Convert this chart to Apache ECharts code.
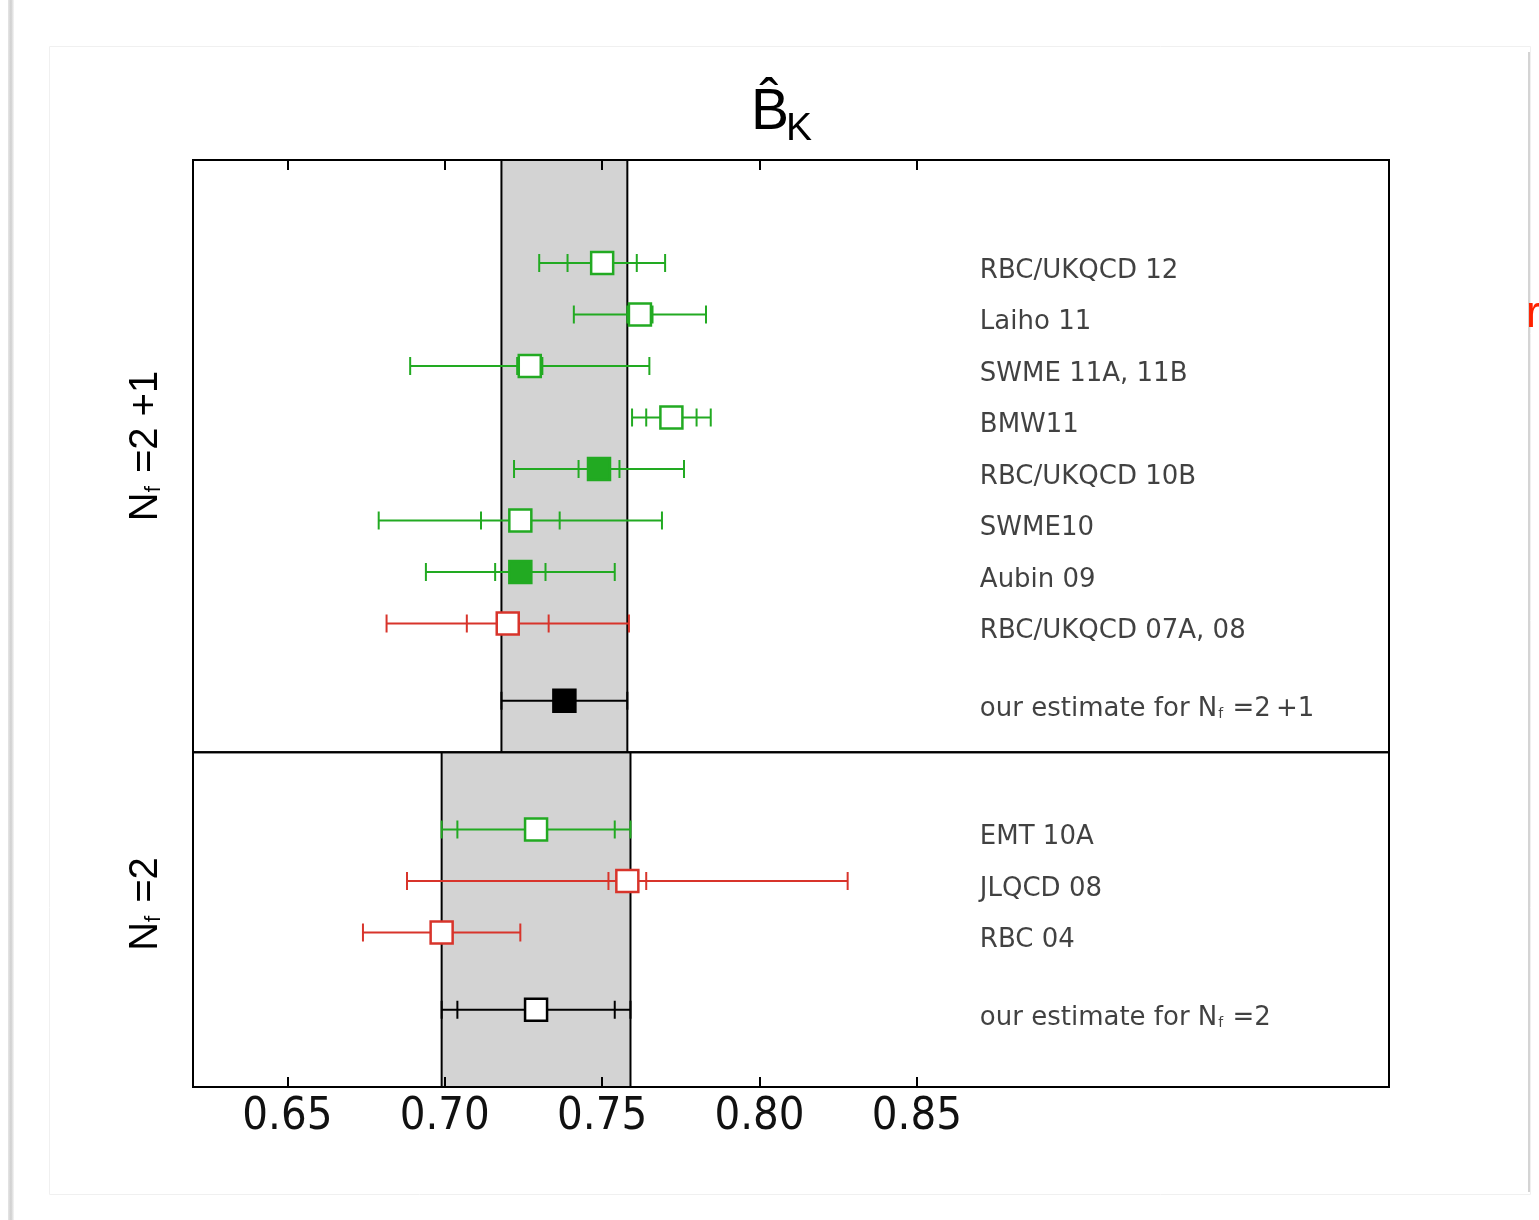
<!DOCTYPE html>
<html>
<head>
<meta charset="utf-8">
<script src="https://cdn.jsdelivr.net/npm/echarts@6/dist/echarts.min.js"></script>
<style>
html, body { margin: 0; padding: 0; background: #fff; }
#main { width: 1539px; height: 1220px; }
</style>
</head>
<body>
<div id="main"></div>
<script>
// B_K results, one row per collaboration (top to bottom)
var names = ['RBC/UKQCD 12', 'Laiho 11', 'SWME 11A, 11B', 'BMW11', 'RBC/UKQCD 10B',
             'SWME10', 'Aubin 09', 'RBC/UKQCD 07A, 08', 'our estimate for N_f =2\u2009+1',
             'EMT 10A', 'JLQCD 08', 'RBC 04', 'our estimate for N_f =2'];
var rows = [2, 3, 4, 5, 6, 7, 8, 9, 10.5, 13, 14, 15, 16.5];
var values = [0.750, 0.762, 0.727, 0.772, 0.749, 0.724, 0.724, 0.720, 0.738,
              0.729, 0.758, 0.699, 0.729];
var statErr = [0.011, 0.004, 0.004, 0.008, 0.0065, 0.0125, 0.008, 0.013, null,
               0.025, 0.006, null, 0.025];
var totErr = [0.020, 0.021, 0.038, 0.0125, 0.027, 0.045, 0.030, 0.0385, 0.020,
              0.030, 0.070, 0.025, 0.030];
// 'ok' = meets quality criteria, 'bad' = does not, 'avg' = FLAG estimate
var quality = ['ok', 'ok', 'ok', 'ok', 'ok', 'ok', 'ok', 'bad', 'avg',
               'ok', 'bad', 'bad', 'avg'];
var usedInAverage = [false, false, false, false, true, false, true, false, true,
                     false, false, false, false];
var panels = [[0, 11.5], [11.5, 18]];
var panelNames = ['N_f =2 +1', 'N_f =2'];
var estimateIdx = [8, 12];
var ticks = [0.65, 0.70, 0.75, 0.80, 0.85];

var xMin = 0.62, xMax = 1.0, yMin = 0, yMax = 18;
var LABEL_X = 0.870;

var colors = { ok: '#22aa22', bad: '#d8342b', avg: '#000000' };

function colorOf(i) { return colors[quality[i]]; }
function richName(s, big) { return s.replace('_f', big ? '{f|f}' : '{s|f}'); }

var chart = echarts.init(document.getElementById('main'));

function xAxisAt(pos, labels) {
	return {
		type : 'value', min : xMin, max : xMax, position : pos, z : 5,
		splitLine : { show : false },
		axisLine : { show : false, onZero : false },
		axisTick : { show : true, inside : true, length : 10, customValues : ticks,
			lineStyle : { color : '#000', width : 2 } },
		axisLabel : { show : labels, customValues : ticks, margin : 8, color : '#111',
			fontSize : 45, fontFamily : 'DejaVu Sans Condensed, DejaVu Sans',
			formatter : function(v) { return v.toFixed(2); } }
	};
}

var option = {
	animation : false,
	grid : { left : 193, top : 160, width : 1196, height : 927, show : false },
	xAxis : [xAxisAt('bottom', true), xAxisAt('top', false)],
	yAxis : { type : 'value', min : yMin, max : yMax, inverse : true, show : false },
	series : [{
				// shaded bands from the two estimates
				type : 'custom', z : 1, silent : true,
				data : estimateIdx.map(function(e, p) { return [values[e], panels[p][0], panels[p][1], totErr[e]]; }),
				renderItem : function(params, api) {
					var v = api.value(0), err = api.value(3);
					var a = api.coord([v - err, api.value(1)]);
					var b = api.coord([v + err, api.value(2)]);
					return { type : 'group', children : [
						{ type : 'rect', shape : { x : a[0], y : a[1], width : b[0] - a[0], height : b[1] - a[1] },
						  style : { fill : '#d3d3d3' } },
						{ type : 'line', shape : { x1 : a[0], y1 : a[1], x2 : a[0], y2 : b[1] },
						  style : { stroke : '#000', lineWidth : 2 } },
						{ type : 'line', shape : { x1 : b[0], y1 : a[1], x2 : b[0], y2 : b[1] },
						  style : { stroke : '#000', lineWidth : 2 } }
					] };
				}
			}, {
				// panel frames
				type : 'custom', z : 8, silent : true,
				data : panels.map(function(p) { return [xMin, p[0], xMax, p[1]]; }),
				renderItem : function(params, api) {
					var a = api.coord([api.value(0), api.value(1)]);
					var b = api.coord([api.value(2), api.value(3)]);
					return { type : 'rect', shape : { x : a[0], y : a[1], width : b[0] - a[0], height : b[1] - a[1] },
						style : { fill : null, stroke : '#000', lineWidth : 2 } };
				}
			}, {
				// error bars: outer = total, inner ticks = statistical
				type : 'custom', z : 6, silent : true,
				data : values.map(function(v, i) { return [v, rows[i]]; }),
				renderItem : function(params, api) {
					var i = params.dataIndex, c = colorOf(i);
					var lo = api.coord([values[i] - totErr[i], rows[i]]);
					var hi = api.coord([values[i] + totErr[i], rows[i]]);
					var y = lo[1];
					var st = { stroke : c, lineWidth : 2 };
					var kids = [{ type : 'line', shape : { x1 : lo[0], y1 : y, x2 : hi[0], y2 : y }, style : st }];
					var xs = [lo[0], hi[0]];
					if (statErr[i] != null) {
						xs.push(api.coord([values[i] - statErr[i], rows[i]])[0]);
						xs.push(api.coord([values[i] + statErr[i], rows[i]])[0]);
					}
					xs.forEach(function(x) {
						kids.push({ type : 'line', shape : { x1 : x, y1 : y - 9, x2 : x, y2 : y + 9 }, style : st });
					});
					return { type : 'group', children : kids };
				}
			}, {
				type : 'scatter', z : 7, silent : true,
				symbol : 'rect', symbolSize : 22,
				data : values.map(function(v, i) {
					var c = colorOf(i);
					return { value : [v, rows[i]],
						itemStyle : { color : usedInAverage[i] ? c : '#fff', borderColor : c, borderWidth : 2.5, opacity : 1 } };
				})
			}, {
				type : 'scatter', z : 7, silent : true, symbolSize : 0,
				data : names.map(function(n, i) { return [LABEL_X, rows[i], n]; }),
				label : {
					show : true, position : 'right', distance : 0, offset : [0, 8],
					color : '#111', fontSize : 26, fontFamily : 'DejaVu Sans',
					formatter : function(p) { return richName(p.value[2], false); },
					rich : { s : { fontSize : 14, color : '#111', fontFamily : 'DejaVu Sans', padding : [11, 1, 0, 1] } }
				}
			}],
	graphic : [
		{ type : 'rect', left : 8, top : 0, shape : { width : 6, height : 1220 },
		  style : { fill : new echarts.graphic.LinearGradient(0, 0, 1, 0, [{ offset : 0, color : '#e6e6e6' }, { offset : 0.5, color : '#cfcfcf' }, { offset : 1, color : '#f6f6f6' }]) } },
		{ type : 'rect', left : 47, top : 44, shape : { width : 1481, height : 1148 },
		  style : { fill : null, stroke : '#f0f0f0', lineWidth : 1 } },
		{ type : 'rect', left : 1528, top : 52, shape : { width : 2, height : 1140 },
		  style : { fill : '#d4d4d4' } },
		{ type : 'text', x : 1526, y : 315,
		  style : { text : 'r', fill : '#ff2200', fontSize : 44, fontFamily : 'Liberation Sans', verticalAlign : 'middle' } },
		{ type : 'text', x : 751, y : 113,
		  style : { text : 'B\u0302', fill : '#000', fontSize : 57, fontFamily : 'Liberation Sans', verticalAlign : 'middle' } },
		{ type : 'text', x : 786, y : 129,
		  style : { text : 'K', fill : '#000', fontSize : 39, fontFamily : 'Liberation Sans', verticalAlign : 'middle' } },
		{ type : 'text', x : 146, y : 446, rotation : Math.PI / 2,
		  style : { text : richName(panelNames[0], true), fill : '#000', fontSize : 40, fontFamily : 'Liberation Sans',
			align : 'center', verticalAlign : 'middle',
			rich : { f : { fontSize : 22, fontFamily : 'Liberation Sans', padding : [16, 2, 0, 0] } } } },
		{ type : 'text', x : 146, y : 904, rotation : Math.PI / 2,
		  style : { text : richName(panelNames[1], true), fill : '#000', fontSize : 40, fontFamily : 'Liberation Sans',
			align : 'center', verticalAlign : 'middle',
			rich : { f : { fontSize : 22, fontFamily : 'Liberation Sans', padding : [16, 2, 0, 0] } } } }
	]
};

chart.setOption(option);
</script>
</body>
</html>
